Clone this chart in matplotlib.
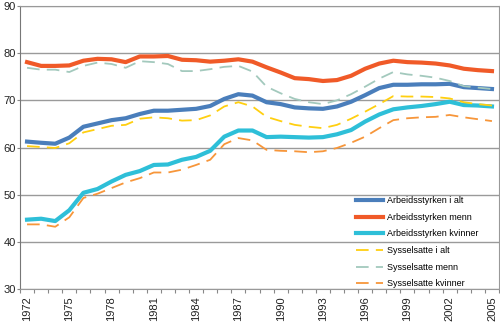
import matplotlib.pyplot as plt
import numpy as np

# data (percent)
years = list(range(1972, 2006))

arb_alt = [61.25, 61.0, 60.8, 62.1, 64.4, 65.1, 65.8, 66.2, 67.1, 67.8, 67.8, 68.0,
           68.2, 68.8, 70.3, 71.3, 71.0, 69.6, 69.2, 68.5, 68.3, 68.2, 68.7, 69.7,
           71.1, 72.6, 73.3, 73.3, 73.4, 73.4, 73.5, 72.8, 72.6, 72.4]
arb_menn = [78.1, 77.3, 77.3, 77.4, 78.4, 78.8, 78.7, 78.1, 79.3, 79.3, 79.4, 78.6,
            78.5, 78.2, 78.4, 78.7, 78.2, 77.0, 75.9, 74.7, 74.5, 74.1, 74.3, 75.2,
            76.7, 77.8, 78.4, 78.1, 78.0, 77.8, 77.4, 76.7, 76.4, 76.2]
arb_kvinner = [44.7, 44.9, 44.4, 46.7, 50.4, 51.2, 52.8, 54.2, 55.0, 56.3, 56.4, 57.4,
               58.0, 59.3, 62.3, 63.6, 63.6, 62.2, 62.3, 62.2, 62.1, 62.2, 62.8, 63.7,
               65.5, 67.0, 68.1, 68.5, 68.8, 69.2, 69.7, 69.0, 68.9, 68.7]
sys_alt = [60.3, 60.1, 59.9, 60.9, 63.2, 63.9, 64.6, 64.8, 66.1, 66.4, 66.2, 65.7,
           65.8, 66.8, 68.7, 69.6, 68.7, 66.5, 65.6, 64.8, 64.4, 64.1, 64.8, 66.1,
           67.6, 69.2, 70.9, 70.8, 70.8, 70.7, 70.4, 69.6, 69.2, 68.9]
sys_menn = [76.9, 76.5, 76.5, 76.0, 77.3, 78.0, 77.7, 76.9, 78.3, 78.1, 77.7, 76.2,
            76.2, 76.6, 77.1, 77.3, 76.1, 72.9, 71.5, 70.3, 69.6, 69.2, 70.0, 71.3,
            72.9, 74.6, 76.0, 75.5, 75.2, 74.8, 74.1, 73.0, 72.7, 72.4]
sys_kvinner = [43.7, 43.7, 43.2, 45.2, 49.3, 50.2, 51.4, 52.6, 53.5, 54.7, 54.7, 55.3,
               56.3, 57.4, 60.7, 62.0, 61.5, 59.5, 59.3, 59.2, 59.0, 59.2, 59.9, 61.0,
               62.3, 64.1, 65.8, 66.2, 66.4, 66.5, 66.9, 66.4, 66.0, 65.6]

font = ['Liberation Sans Narrow', 'Liberation Sans', 'DejaVu Sans']
plt.rcParams['font.family'] = font

fig = plt.figure(figsize=(5, 3.22), dpi=100)
ax = fig.add_axes([20 / 500, 1 - 289 / 322, 479 / 500, 283 / 322])

x = np.arange(len(years))

ax.plot(x, arb_alt, color='#4a7ebb', lw=3, label='Arbeidsstyrken i alt')
ax.plot(x, arb_menn, color='#f05a28', lw=3, label='Arbeidsstyrken menn')
ax.plot(x, arb_kvinner, color='#2ebfd8', lw=3, label='Arbeidsstyrken kvinner')
ax.plot(x, sys_alt, color='#ffcf10', lw=1.3, dashes=(7, 4), label='Sysselsatte i alt')
ax.plot(x, sys_menn, color='#a3c9bd', lw=1.3, dashes=(7, 4), label='Sysselsatte menn')
ax.plot(x, sys_kvinner, color='#f7963a', lw=1.3, dashes=(7, 4), label='Sysselsatte kvinner')

ax.set_xlim(-0.5, len(years) - 0.5)
ax.set_ylim(30, 90)
ax.set_yticks(range(30, 91, 10))
ax.grid(axis='y', color='#9a9a9a', lw=1)
ax.set_axisbelow(True)

# labels every third year, small tick marks on every category boundary
ax.set_xticks(x[::3])
ax.set_xticklabels([str(y) for y in years[::3]], rotation=90)
ax.set_xticks(np.arange(-0.5, len(years), 1), minor=True)
ax.tick_params(axis='x', which='major', length=0, pad=5, labelsize=8, colors='#222222')
ax.tick_params(axis='x', which='minor', length=3, color='#888888', width=0.8)
ax.tick_params(axis='y', length=2, pad=1, labelsize=8, color='#888888', labelcolor='#222222')

for side in ['top', 'right', 'bottom']:
    ax.spines[side].set_color('#999999')
ax.spines['left'].set_color('#777777')

fig.legend(loc='upper left', bbox_to_anchor=(356 / 500, 1 - 196 / 322),
           frameon=False, fontsize=6.5, handlelength=3.0, handletextpad=0.4,
           labelspacing=0.85, borderpad=0, borderaxespad=0)

fig.savefig('out.png', dpi=100)
